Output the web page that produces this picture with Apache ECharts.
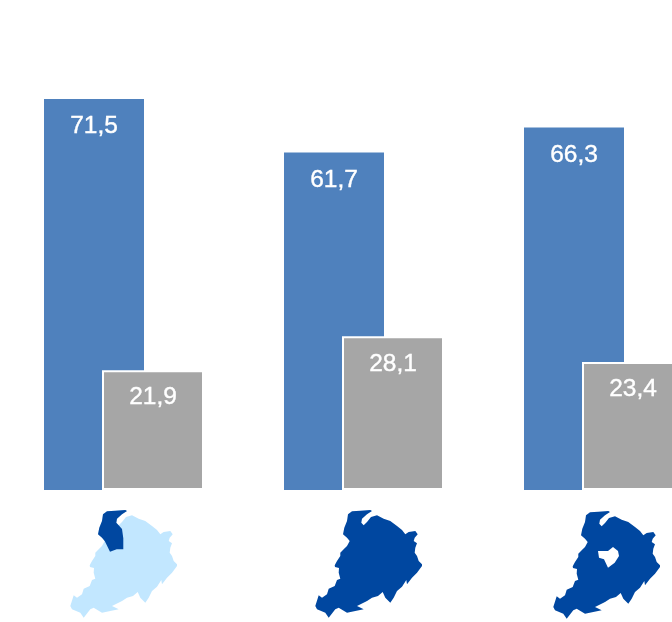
<!DOCTYPE html>
<html>
<head>
<meta charset="utf-8">
<style>
  html, body { margin: 0; padding: 0; background: #fff; }
  #chart { width: 672px; height: 622px; }
</style>
<script src="https://cdn.jsdelivr.net/npm/echarts@6/dist/echarts.min.js"></script>
</head>
<body>
<div id="chart"></div>
<script>
const categories = ['1', '2', '3'];
const blueValues = [71.5, 61.7, 66.3];
const greyValues = [21.9, 28.1, 23.4];

// map silhouettes
const outline = [[43,14.3],[47,11.3],[55.3,10.7],[65.3,10],[67,11],[62,14.3],[57,18.7],[56.3,22.7],[58.7,25.3],[62,22],[66,17],[72,15.3],[78.7,18.7],[85.3,21],[92,26],[97,30],[100.3,34.3],[103.7,32],[110.3,31],[112.7,34.3],[109.7,37.7],[108.7,41],[112,43.3],[110.3,47.7],[109.7,52.7],[112,56],[113.7,61],[117,64.3],[117,66],[112,72.7],[107,77.7],[102,84.3],[101.3,80],[97,86.7],[92,91],[88.7,97.7],[85.3,102.7],[80.3,97.7],[77.7,92],[73,96],[67,97.7],[62,101],[52,106],[58.7,109.3],[50.3,111],[42,112.7],[33.7,107.7],[30.3,109.3],[23.7,117.7],[20.3,112.7],[12,109.3],[10.3,106],[13.7,95.3],[17,97.7],[22,94.3],[23.7,88.7],[29.7,86],[32,80],[35.3,78.7],[33.7,72.7],[34,68],[30,67],[29.7,65.3],[32,61],[35.3,56],[35.3,52.7],[38.7,49.3],[42,46],[44.7,41],[42,37.7],[38,34.3],[39.3,27.7],[42,21]];
const north = [[43,14.3],[47,11.3],[55.3,10.7],[65.3,10],[67,11],[62,14.3],[57,18.7],[56.3,22.7],[58.7,25.3],[62,29],[63.3,38.3],[63.3,49.3],[56.7,49.3],[50,51.7],[46.7,45],[44.7,41],[42,37.7],[38,34.3],[39.3,27.7],[42,21]];
const hole = [[55,50],[60,50],[65,50],[70,46],[75,50],[76,55],[71.7,61.7],[65,66.7],[61,58.3],[56,56.7]];

function shape(points, color) {
  return { type: 'polygon', shape: { points: points }, style: { fill: color } };
}

const DARK = '#0047a0';
const LIGHT = '#c2e7ff';

function label() {
  return {
    show: true,
    position: 'insideTop',
    distance: 15,
    color: '#fff',
    fontFamily: 'Liberation Sans',
    fontSize: 24.5,
    textBorderColor: '#fff',
    textBorderWidth: 0.4,
    formatter: p => String(p.value).replace('.', ',')
  };
}

const chart = echarts.init(document.getElementById('chart'), null, { renderer: 'canvas' });
chart.setOption({
  animation: false,
  backgroundColor: '#fff',
  // the third group runs off the right edge of the page
  grid: { left: 4, top: 0, width: 720, height: 490, outerBoundsMode: 'none' },
  xAxis: {
    type: 'category',
    data: categories,
    axisLine: { show: false },
    axisTick: { show: false },
    axisLabel: { show: false }
  },
  yAxis: { type: 'value', min: 0, max: 89.6, show: false, splitLine: { show: false } },
  series: [
    {
      type: 'bar',
      data: blueValues,
      barWidth: 100,
      barGap: '-42%',
      itemStyle: { color: '#4f81bd' },
      label: label()
    },
    {
      type: 'bar',
      data: greyValues,
      barWidth: 102,
      itemStyle: { color: '#a6a6a6', borderColor: '#fff', borderWidth: 2 },
      label: label()
    }
  ],
  graphic: [
    { type: 'group', x: 60, y: 500, children: [shape(outline, LIGHT), shape(north, DARK)] },
    { type: 'group', x: 305, y: 500, children: [shape(outline, DARK)] },
    { type: 'group', x: 543, y: 501, children: [shape(outline, DARK), shape(hole, '#fff')] }
  ]
});
</script>
</body>
</html>
